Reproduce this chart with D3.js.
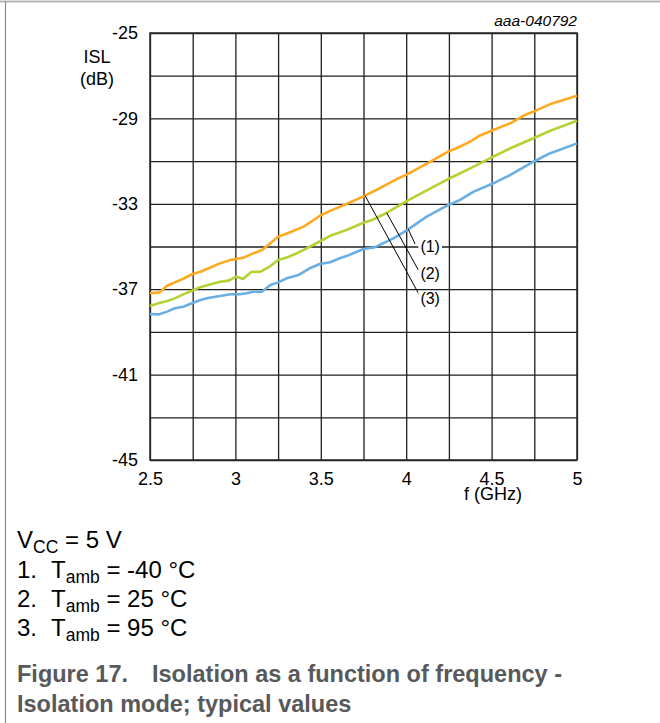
<!DOCTYPE html>
<html>
<head>
<meta charset="utf-8">
<script src="https://cdn.jsdelivr.net/npm/d3@7"></script>
<style>
body { margin: 0; background: #fff; }
svg text { font-family: "Liberation Sans", Arial, sans-serif; }
</style>
</head>
<body>
<div class="chart"></div>
<script>
const width = 660
const height = 723
const margin = { top: 33, left: 150 }
const innerWidth = 427
const innerHeight = 427

// axis ticks
const xGrid = [2.5, 2.75, 3, 3.25, 3.5, 3.75, 4, 4.25, 4.5, 4.75, 5]
const xTickLabels = ["2.5", "3", "3.5", "4", "4.5", "5"]
const yGrid = [-25, -27, -29, -31, -33, -35, -37, -39, -41, -43, -45]
const yTickLabels = ["-25", "-29", "-33", "-37", "-41", "-45"]

// curve (1) Tamb = -40 C (blue)
const freq40 = [2.5, 2.55, 2.6, 2.645, 2.695, 2.745, 2.795, 2.84, 2.91, 2.97, 3.025, 3.065, 3.105, 3.155, 3.205, 3.25, 3.3, 3.37, 3.435, 3.495, 3.555, 3.61, 3.65, 3.75, 3.81, 3.925, 4.005, 4.12, 4.245, 4.315, 4.395, 4.51, 4.61, 4.745, 4.84, 5.0]
const isl40 = [-38.16, -38.18, -38.05, -37.89, -37.82, -37.66, -37.51, -37.41, -37.32, -37.24, -37.24, -37.19, -37.12, -37.12, -36.80, -36.68, -36.49, -36.33, -36.02, -35.82, -35.74, -35.55, -35.45, -35.12, -35.05, -34.62, -34.23, -33.60, -33.06, -32.82, -32.43, -32.04, -31.65, -31.03, -30.64, -30.17]

// curve (2) Tamb = 25 C (green)
const freq25 = [2.5, 2.55, 2.6, 2.645, 2.695, 2.745, 2.795, 2.84, 2.91, 2.96, 3.005, 3.045, 3.095, 3.145, 3.195, 3.25, 3.3, 3.35, 3.4, 3.455, 3.555, 3.65, 3.75, 3.8, 3.885, 4.005, 4.14, 4.245, 4.295, 4.375, 4.51, 4.61, 4.745, 4.84, 5.0]
const isl25 = [-37.79, -37.66, -37.55, -37.43, -37.24, -37.07, -36.91, -36.80, -36.65, -36.60, -36.41, -36.52, -36.18, -36.19, -35.97, -35.63, -35.52, -35.35, -35.16, -34.93, -34.50, -34.23, -33.89, -33.76, -33.43, -32.86, -32.29, -31.84, -31.65, -31.34, -30.79, -30.40, -29.93, -29.59, -29.11]

// curve (3) Tamb = 95 C (orange)
const freq95 = [2.5, 2.555, 2.6, 2.645, 2.695, 2.745, 2.795, 2.84, 2.91, 2.97, 3.005, 3.045, 3.105, 3.155, 3.25, 3.32, 3.4, 3.495, 3.555, 3.65, 3.75, 3.845, 3.945, 4.005, 4.08, 4.14, 4.245, 4.295, 4.375, 4.43, 4.51, 4.61, 4.695, 4.755, 4.84, 4.92, 5.0]
const isl95 = [-37.19, -37.15, -36.84, -36.68, -36.51, -36.30, -36.18, -36.03, -35.79, -35.63, -35.59, -35.53, -35.32, -35.17, -34.54, -34.33, -34.07, -33.56, -33.33, -33.01, -32.65, -32.27, -31.84, -31.62, -31.29, -31.04, -30.56, -30.40, -30.09, -29.81, -29.54, -29.23, -28.84, -28.65, -28.34, -28.14, -27.94]

// callouts: where the leader leaves the curve, where it ends, where the label sits
const calloutNames = ["(1)", "(2)", "(3)"]
const calloutFreq = [4.012, 3.886, 3.759]
const calloutEndFreq = [4.052, 4.071, 4.077]
const calloutEndIsl = [-34.88, -36.10, -37.27]
const labelFreq = [4.083, 4.083, 4.083]
const labelIsl = [-35.01, -36.26, -37.41]

const series = [
    { f: freq40, v: isl40, color: "#6aafe4" },
    { f: freq25, v: isl25, color: "#b3d335" },
    { f: freq95, v: isl95, color: "#fbaa22" }
]

const svg = d3.select(".chart")
    .append("svg")
    .attr("width", width)
    .attr("height", height)

// page frame
svg.append("line").attr("x1", 0).attr("x2", width).attr("y1", 1.5).attr("y2", 1.5)
    .attr("stroke", "#b5b5b5").attr("stroke-width", 2)
svg.append("line").attr("x1", 5.5).attr("x2", 5.5).attr("y1", 1).attr("y2", height)
    .attr("stroke", "#8a8a8a").attr("stroke-width", 1.2)

const g = svg.append("g")
    .attr("transform", "translate(" + margin.left + "," + margin.top + ")")

const xScale = d3.scaleLinear()
    .domain([2.5, 5])
    .range([0, innerWidth])

const yScale = d3.scaleLinear()
    .domain([-45, -25])
    .range([innerHeight, 0])

const xAxis = d3.axisBottom(xScale)
    .tickValues(xGrid)
    .tickSize(-innerHeight)
    .tickPadding(12)
    .tickFormat(d => xTickLabels.includes(String(d)) ? String(d) : "")

const yAxis = d3.axisLeft(yScale)
    .tickValues(yGrid)
    .tickSize(-innerWidth)
    .tickPadding(12)
    .tickFormat(d => yTickLabels.includes(String(d)) ? String(d) : "")

g.append("g")
    .attr("class", "x-axis")
    .attr("transform", "translate(0," + innerHeight + ")")
    .call(xAxis)

g.append("g")
    .attr("class", "y-axis")
    .call(yAxis)

g.selectAll(".tick line").attr("stroke", "#1e1e1e").attr("stroke-width", 1.3)
g.selectAll(".domain").remove()
g.selectAll(".tick text")
    .attr("fill", "#000")
    .style("font-size", "18px")
    .style("font-family", "Liberation Sans, Arial, sans-serif")

g.append("rect")
    .attr("width", innerWidth)
    .attr("height", innerHeight)
    .attr("fill", "none")
    .attr("stroke", "#2a2a2a")
    .attr("stroke-width", 1.5)

const line = d3.line()
    .x(d => xScale(d[0]))
    .y(d => yScale(d[1]))

series.forEach(s => {
    g.append("path")
        .attr("d", line(d3.zip(s.f, s.v)))
        .attr("fill", "none")
        .attr("stroke", s.color)
        .attr("stroke-width", 2.6)
        .attr("stroke-linejoin", "round")
})

// leaders and labels
calloutNames.forEach((name, i) => {
    const s = series[i]
    const fy = d3.scaleLinear().domain(s.f).range(s.v)
    g.append("line")
        .attr("x1", xScale(calloutFreq[i]))
        .attr("y1", yScale(fy(calloutFreq[i])))
        .attr("x2", xScale(calloutEndFreq[i]))
        .attr("y2", yScale(calloutEndIsl[i]))
        .attr("stroke", "#000")
        .attr("stroke-width", 1)
    const t = g.append("text")
        .attr("x", xScale(labelFreq[i]))
        .attr("y", yScale(labelIsl[i]))
        .attr("dy", "0.35em")
        .style("font-size", "16px")
        .text(name)
    const b = t.node().getBBox()
    g.append("rect")
        .attr("x", b.x - 2).attr("y", b.y + 2)
        .attr("width", b.width + 4).attr("height", b.height - 4)
        .attr("fill", "#fff")
    t.raise()
})

// axis titles
svg.append("text").attr("x", 97).attr("y", 63).attr("text-anchor", "middle")
    .style("font-size", "18px").text("ISL")
svg.append("text").attr("x", 97).attr("y", 85).attr("text-anchor", "middle")
    .style("font-size", "18px").text("(dB)")
svg.append("text").attr("x", 493).attr("y", 500).attr("text-anchor", "middle")
    .style("font-size", "18px").text("f (GHz)")
svg.append("text").attr("x", 577).attr("y", 26).attr("text-anchor", "end")
    .style("font-size", "15.5px").attr("font-style", "italic").text("aaa-040792")

// notes under the chart
const vcc = svg.append("text").attr("x", 17).attr("y", 548).style("font-size", "24px")
vcc.append("tspan").text("V")
vcc.append("tspan").attr("dy", 5).style("font-size", "17.5px").text("CC")
vcc.append("tspan").attr("dy", -5).text(" = 5 V")

const notes = ["-40 °C", "25 °C", "95 °C"]
notes.forEach((n, i) => {
    const y = 578 + i * 29
    svg.append("text").attr("x", 17).attr("y", y).style("font-size", "24px").text((i + 1) + ".")
    const t = svg.append("text").attr("x", 51).attr("y", y).style("font-size", "24px")
    t.append("tspan").text("T")
    t.append("tspan").attr("dy", 5).style("font-size", "17.5px").text("amb")
    t.append("tspan").attr("dy", -5).text(" = " + n)
})

const cap = svg.append("text").attr("y", 682).style("font-size", "23.5px")
    .attr("font-weight", "bold").attr("fill", "#58595b")
cap.append("tspan").attr("x", 17).text("Figure 17.")
cap.append("tspan").attr("x", 152).text("Isolation as a function of frequency -")
svg.append("text").attr("x", 17).attr("y", 712).style("font-size", "23.5px")
    .attr("font-weight", "bold").attr("fill", "#58595b")
    .text("Isolation mode; typical values")
</script>
</body>
</html>
